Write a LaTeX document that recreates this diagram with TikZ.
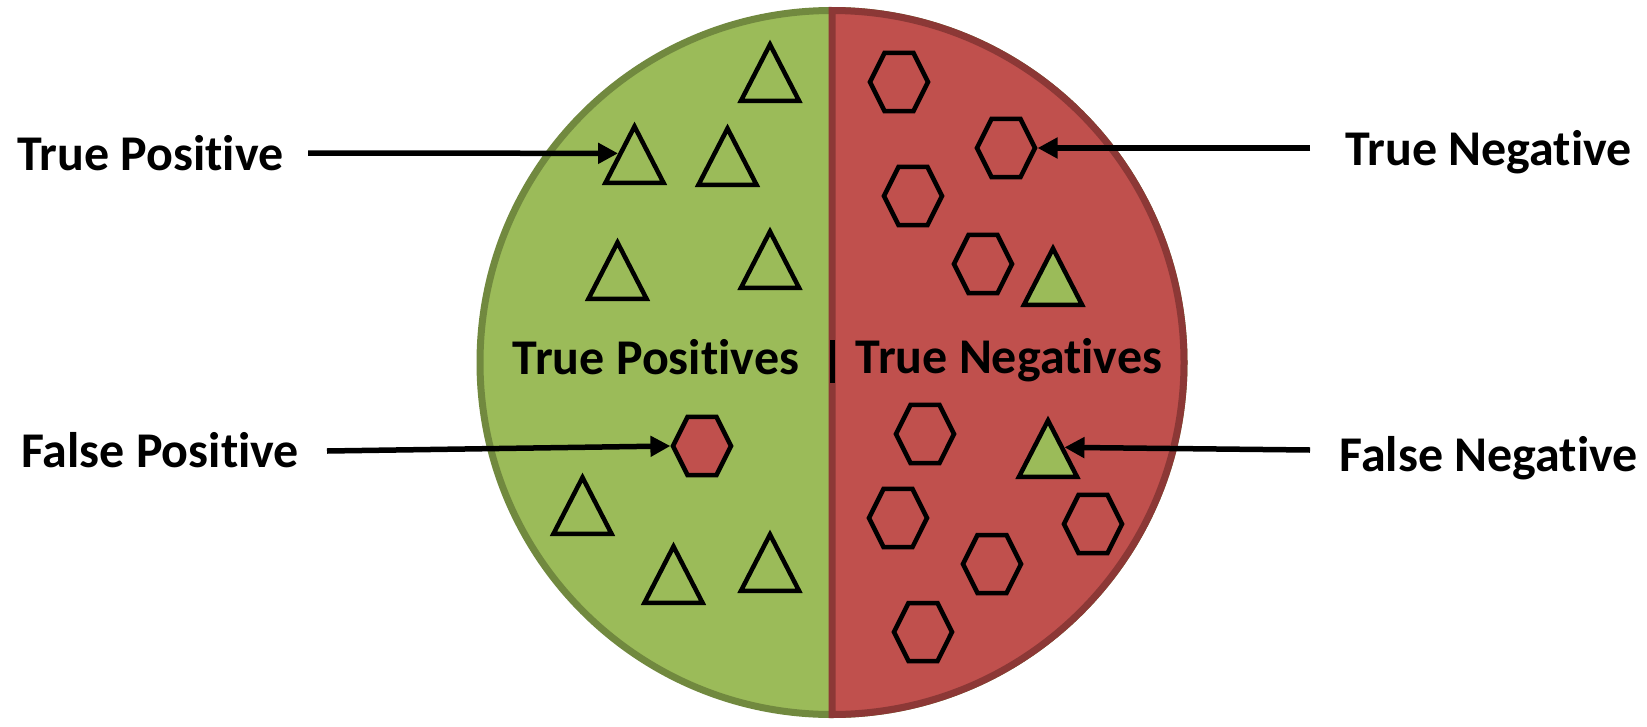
\documentclass[tikz,border=0pt]{standalone}
\usepackage{fontspec}
\setmainfont{Carlito}[Ligatures=NoCommon]
\usetikzlibrary{shapes.geometric,arrows.meta}
\definecolor{posgreen}{HTML}{9BBB59}
\definecolor{posgreenline}{HTML}{71893F}
\definecolor{negred}{HTML}{C0504D}
\definecolor{negredline}{HTML}{8C3836}

\begin{document}
\begin{tikzpicture}[x=1pt,y=-1pt,
  tri/.style={draw,regular polygon,regular polygon sides=3,minimum size=67pt,inner sep=0pt,line width=4.5pt,transform shape,yscale=1.12,fill=posgreen},
  hex/.style={draw,regular polygon,regular polygon sides=6,minimum size=58pt,inner sep=0pt,line width=4.5pt,transform shape,yscale=1.155,fill=negred},
  lbl/.style={font=\fontsize{50}{60}\selectfont\bfseries,inner sep=0pt},
  ptr/.style={line width=5.5pt,-{Triangle[length=20pt,width=20pt]}}]
  \useasboundingbox (0,0) rectangle (1647,726);

  % Circle, positive half under negative half
  \filldraw[fill=posgreen,draw=posgreenline,line width=7pt] (832,362.5) circle[radius=352];
  \filldraw[fill=negred,draw=negredline,line width=7pt] (832,10.5) arc[start angle=-90,end angle=90,radius=352] -- cycle;

  % Positives (triangles)
  \node[tri] (tp) at (634.5,164) {};
  \foreach \x/\y [count=\i] in {770/82,727.5/166,617.5/280,770/269,582.5/515,673.5/584,770/572}
    \node[tri] (p\i) at (\x,\y) {};

  % False positive
  \node[hex] (fp) at (702,446) {};

  % Negatives (hexagons)
  \node[hex] (tn) at (1006,148) {};
  \foreach \x/\y [count=\i] in {899/82,913/196,983/264,925/434,898/518,1093/524,992/564,923/632}
    \node[hex] (n\i) at (\x,\y) {};

  % False negatives
  \node[tri] (g1) at (1053,286) {};
  \node[tri] (fn) at (1048,458) {};

  % Middle labels
  \node[lbl,anchor=base] (posLabel) at (656,374) {True Positives};
  \node[lbl,anchor=base] (negLabel) at (1009,373) {True Negatives};
  \draw[line width=5pt] (832,340) -- (832,383);

  % Side labels
  \node[lbl,anchor=base west] (tpLabel) at (17,170) {True Positive};
  \node[lbl,anchor=base west] (fpLabel) at (21,467) {False Positive};
  \node[lbl,anchor=base east] (tnLabel) at (1632,165) {True Negative};
  \node[lbl,anchor=base east] (fnLabel) at (1638,471) {False Negative};

  % Arrows
  \coordinate (tpStart) at (308,153);
  \coordinate (fpStart) at (327,451);
  \coordinate (tnStart) at (1310,148);
  \coordinate (fnStart) at (1310,450);
  \draw[ptr] (tpStart) -- (tp.side 1);
  \draw[ptr] (fpStart) -- (fp.west);
  \draw[ptr] (tnStart) -- (tn.east);
  \draw[ptr] (fnStart) -- (fn.side 3);
\end{tikzpicture}
\end{document}
